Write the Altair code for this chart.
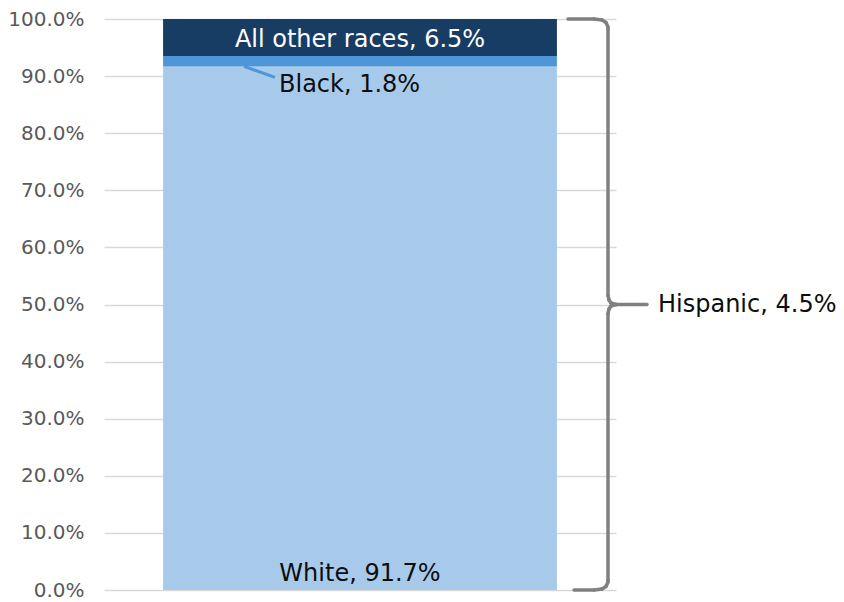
import altair as alt
import pandas as pd

categories = ["White", "Black", "All other races"]
shares = [0.917, 0.018, 0.065]
colors = ["#A7CAEB", "#4F96D8", "#173D64"]
hispanic_share = 0.045
y_ticks = [0, 0.1, 0.2, 0.3, 0.4, 0.5, 0.6, 0.7, 0.8, 0.9, 1.0]

FONT = "DejaVu Sans"
LABEL_SIZE = 24

df = pd.DataFrame({"group": ["All"] * 3, "race": categories, "share": shares,
                   "order": [0, 1, 2]})
cum = []
s = 0
for v in shares:
    cum.append((s, s + v))
    s += v
df["start"] = [c[0] for c in cum]
df["end"] = [c[1] for c in cum]
df["label"] = [f"{r}, {v*100:.1f}%" for r, v in zip(categories, shares)]

yscale = alt.Scale(domain=[0, 1], nice=False)
xscale = alt.Scale(paddingInner=0.2, paddingOuter=0.12)

base = alt.Chart(df)

bars = base.mark_bar().encode(
    x=alt.X("group:N", scale=xscale, axis=None),
    y=alt.Y("start:Q", scale=yscale,
            axis=alt.Axis(values=y_ticks, format=".1%", title=None, domain=False,
                          ticks=False, grid=True, gridColor="#D9D9D9", gridWidth=1.5,
                          labelFont=FONT, labelFontSize=20, labelColor="#595959",
                          labelPadding=20)),
    y2="end:Q",
    color=alt.Color("race:N", scale=alt.Scale(domain=categories, range=colors), legend=None),
)

top_label = base.transform_filter(alt.datum.race == "All other races").mark_text(
    font=FONT, fontSize=LABEL_SIZE, color="white", baseline="middle", dy=2
).encode(x=alt.X("group:N", scale=xscale), y=alt.Y("mid:Q", scale=yscale), text="label:N"
).transform_calculate(mid="(datum.start + datum.end) / 2")

white_label = base.transform_filter(alt.datum.race == "White").mark_text(
    font=FONT, fontSize=LABEL_SIZE, color="#0D0D0D", baseline="middle", dy=-16
).encode(x=alt.X("group:N", scale=xscale), y=alt.Y("start:Q", scale=yscale), text="label:N")

black_label = base.transform_filter(alt.datum.race == "Black").mark_text(
    font=FONT, fontSize=LABEL_SIZE, color="#0D0D0D", baseline="middle", align="left", dy=19, dx=-81
).encode(x=alt.X("group:N", scale=xscale), y=alt.Y("start:Q", scale=yscale), text="label:N")

leader = base.transform_filter(alt.datum.race == "Black").mark_rule(
    color="#4F96D8", strokeWidth=3, y2Offset=11
).encode(x=alt.value(140), x2=alt.value(171), y=alt.Y("start:Q", scale=yscale), y2="start:Q")

# brace segments: (x, value, pixel offset)
brace_pts = [
    (464, 1.0, 0), (490, 1.0, 0), (498, 1.0, 1), (502, 1.0, 3.5), (504, 1.0, 8), (504, 1.0, 10),
    (504, 0.5, -9), (505, 0.5, -4.5), (507, 0.5, -1.5), (512, 0.5, 0),
]
brace_pts_low = [
    (512, 0.5, 0), (507, 0.5, 1.5), (505, 0.5, 4.5), (504, 0.5, 9),
    (504, 0.0, -10), (504, 0.0, -8), (502, 0.0, -3.5), (498, 0.0, -1), (490, 0.0, 0), (470, 0.0, 0),
]
layers = [bars, leader, top_label, white_label, black_label]
for pts in (brace_pts, brace_pts_low):
    for (x1, v1, o1), (x2, v2, o2) in zip(pts[:-1], pts[1:]):
        layers.append(alt.Chart(df.head(1)).mark_rule(
            color="#808080", strokeWidth=3.5, strokeCap="round", yOffset=o1, y2Offset=o2
        ).encode(x=alt.value(x1), x2=alt.value(x2), y=alt.datum(v1, scale=yscale), y2=alt.datum(v2)))
layers.append(alt.Chart(df.head(1)).mark_rule(
    color="#808080", strokeWidth=3.5, strokeCap="round"
).encode(x=alt.value(512), x2=alt.value(543), y=alt.datum(0.5), y2=alt.datum(0.5)))

hisp = alt.Chart(pd.DataFrame({"label": [f"Hispanic, {hispanic_share*100:.1f}%"], "pos": [0.5]})).mark_text(
    font=FONT, fontSize=LABEL_SIZE, color="#0D0D0D", align="left", baseline="middle"
).encode(x=alt.value(554), y=alt.Y("pos:Q", scale=yscale), text="label:N")
layers.append(hisp)

chart = alt.layer(*layers).properties(
    width=512, height=571,
    autosize=alt.AutoSizeParams(type="none"),
    padding={"left": 96, "top": 11, "right": 220, "bottom": 10},
).configure_view(stroke=None)

chart.save("out.html", embed_options={"renderer": "svg", "actions": False})
